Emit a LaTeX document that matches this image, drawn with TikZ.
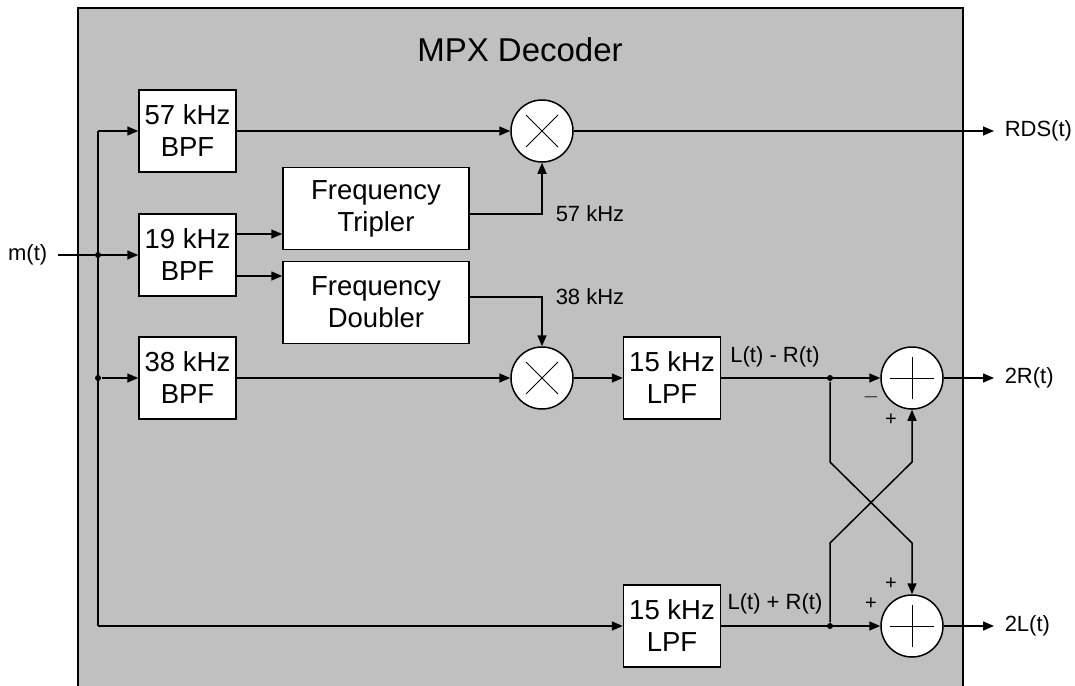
\documentclass[tikz,border=0pt]{standalone}
\usepackage{fontspec}
\setmainfont{Liberation Sans}
\usetikzlibrary{arrows.meta,calc}
\definecolor{mpxgray}{RGB}{192,192,192}

\begin{document}
\begin{tikzpicture}[x=1pt,y=-1pt,line width=1.5pt,
  block/.style={draw,fill=white,minimum width=97pt,minimum height=82pt,inner sep=0pt,
    align=center,font=\fontsize{27.5}{32}\selectfont},
  wide/.style={block,minimum width=186pt},
  op/.style={draw,fill=white,circle,minimum size=62pt,inner sep=0pt},
  sig/.style={-{Triangle[length=11pt,width=9pt]}},
  lbl/.style={font=\fontsize{22}{26}\selectfont,inner sep=0pt},
  sgn/.style={font=\fontsize{20}{22}\selectfont,inner sep=0pt},
  dot/.style={circle,fill,inner sep=0pt,minimum size=6pt}]
  \useasboundingbox (0,0) rectangle (1075,685);
  % decoder frame
  \fill[mpxgray] (78,8) rectangle (963,690);
  \draw (78,690) -- (78,8) -- (963,8) -- (963,690);
  \node[font=\fontsize{33}{36}\selectfont] (title) at (520,50) {MPX Decoder};

  % filters
  \node[block] (b57) at (187.5,131) {57 kHz\\BPF};
  \node[block] (b19) at (187.5,255) {19 kHz\\BPF};
  \node[block] (b38) at (187.5,378) {38 kHz\\BPF};
  \node[wide] (trip) at (376,208.5) {Frequency\\Tripler};
  \node[wide] (dbl) at (376,302.5) {Frequency\\Doubler};
  \node[block] (lpfd) at (672,378) {15 kHz\\LPF};
  \node[block] (lpfs) at (672,626) {15 kHz\\LPF};

  % mixers and adders
  \node[op] (mx1) at (542,131) {};
  \node[op] (mx2) at (542,378) {};
  \node[op] (addr) at (912,378) {};
  \node[op] (addl) at (912,626) {};
  \foreach \m in {mx1,mx2} {
    \draw[line width=1pt] ([shift={(-16,-16)}]\m.center) -- ([shift={(16,16)}]\m.center);
    \draw[line width=1pt] ([shift={(-16,16)}]\m.center) -- ([shift={(16,-16)}]\m.center);
  }
  \foreach \m in {addr,addl} {
    \draw[line width=1pt] ([xshift=-22pt]\m.center) -- ([xshift=22pt]\m.center);
    \draw[line width=1pt] ([yshift=-21pt]\m.center) -- ([yshift=21pt]\m.center);
  }

  % input
  \node[lbl,anchor=east] (in) at (48,255) {m(t)};
  \coordinate (jtop) at (98,131);
  \coordinate (jbot) at (98,626);
  \node[dot] (jin) at (98,255) {};
  \node[dot] (j38) at (98,378) {};
  \draw (jtop) -- (jbot);
  \draw[sig] ([xshift=10pt]in.east) -- (b19.west);
  \draw[sig] (jtop) -- (b57.west);
  \draw[sig] (j38) -- (b38.west);
  \draw[sig] (jbot) -- (lpfs.west);

  % pilot paths
  \draw[sig] ([yshift=21pt]b19.east) -- (trip.west |- 0,234);
  \draw[sig] ([yshift=-21pt]b19.east) -- (dbl.west |- 0,276);
  \draw[sig] (b57.east) -- (mx1.west);
  \draw[sig] (trip.east |- 0,214) -| (mx1.south);
  \draw[sig] (dbl.east |- 0,297) -| (mx2.north);
  \node[lbl,anchor=west] (f57) at (555,214) {57 kHz};
  \node[lbl,anchor=west] (f38) at (555,297) {38 kHz};
  \draw[sig] (b38.east) -- (mx2.west);
  \draw[sig] (mx2.east) -- (lpfd.west);

  % RDS output
  \node[lbl,anchor=west] (rds) at (1004,131) {RDS(t)};
  \draw[sig] (mx1.east) -- ([xshift=-10pt]rds.west);

  % matrix
  \node[dot] (jd) at (830,378) {};
  \node[dot] (js) at (830,626) {};
  \draw[sig] (lpfd.east) -- (addr.west);
  \draw[sig] (lpfs.east) -- (addl.west);
  \node[lbl,anchor=south] (ldiff) at (775,368) {L(t) - R(t)};
  \node[lbl,anchor=south] (lsum) at (775,615) {L(t) + R(t)};
  \draw[sig] (jd) -- (830,462) -- (912,543) -- (addl.north);
  \draw[sig] (js) -- (830,543) -- (912,462) -- (addr.south);
  \node[sgn] (mr) at (871,397) {$-$};
  \node[sgn] (pr) at (891,420) {+};
  \node[sgn] (pl1) at (891,584) {+};
  \node[sgn] (pl2) at (871,604) {+};

  % outputs
  \node[lbl,anchor=west] (outr) at (1004,378) {2R(t)};
  \node[lbl,anchor=west] (outl) at (1004,626) {2L(t)};
  \draw[sig] (addr.east) -- ([xshift=-10pt]outr.west);
  \draw[sig] (addl.east) -- ([xshift=-10pt]outl.west);
\end{tikzpicture}
\end{document}
